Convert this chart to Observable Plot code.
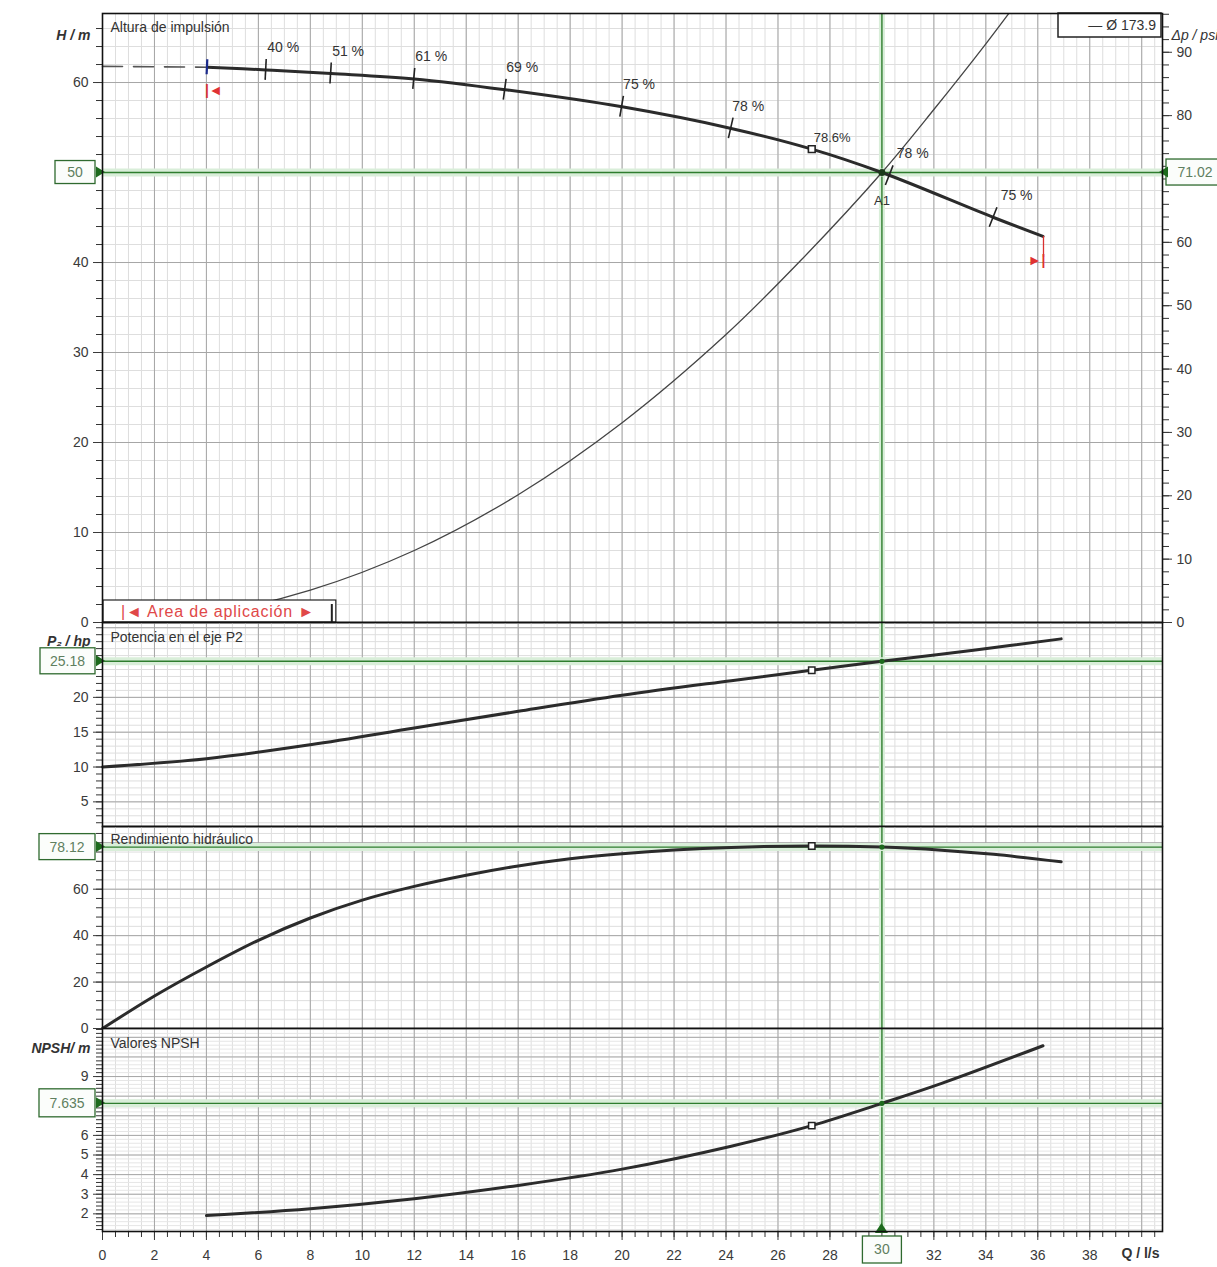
<!DOCTYPE html>
<html><head><meta charset="utf-8">
<script src="https://cdn.jsdelivr.net/npm/d3@7"></script>
<script src="https://cdn.jsdelivr.net/npm/@observablehq/plot@0.6"></script>
<style>
html,body{margin:0;padding:0;background:#fff;overflow:hidden;}
#chart{position:relative;width:1217px;height:1267px;}
#chart svg{position:absolute;left:0;}
</style></head><body><div id="chart"></div>
<script>
// ---------------- data ----------------
const pumpQ = [4.04, 6.3, 8.8, 12, 15.5, 20, 24.2, 27.3, 30, 34.3, 36.2];
const pumpH = [61.7, 61.4, 61.0, 60.4, 59.2, 57.3, 54.9, 52.6, 50.0, 45.0, 42.9];
const dashQ = [0, 2, 4.04];
const dashH = [61.8, 61.75, 61.7];
const systemQ = [0, 4, 8, 12, 16, 20, 24, 26.9, 30, 32, 34, 35.2];
const systemH = [0, 0.9, 3.6, 8.0, 14.2, 22.2, 32.0, 40.3, 50.0, 57.0, 64.3, 68.9];
const powerQ = [0, 4, 8, 12, 16, 20, 24.2, 27.3, 30, 33.6, 36.9];
const powerP = [10.0, 11.2, 13.2, 15.6, 18.0, 20.3, 22.4, 23.9, 25.18, 26.8, 28.4];
const effQ = [0, 2, 4, 6, 8, 10, 12, 14, 16, 18, 20, 22, 24.2, 27.3, 30, 32.3, 34.3, 36.9];
const effV = [0, 14, 26.5, 38, 47.6, 55.3, 61.2, 66.0, 70.0, 73.1, 75.3, 76.9, 78.0, 78.6, 78.12, 76.8, 75.0, 71.8];
const npshQ = [4, 8, 12, 16, 20, 24.2, 27.3, 30, 32.3, 36.2];
const npshV = [1.91, 2.26, 2.77, 3.45, 4.28, 5.45, 6.5, 7.635, 8.65, 10.57];
const effTickQ = [6.3, 8.8, 12, 15.5, 20, 24.2];
const effTickLbl = ["40 %", "51 %", "61 %", "69 %", "75 %", "78 %"];
const effTickQR = [30.3, 34.3];
const effTickLblR = ["78 %", "75 %"];
const bep = {q: 27.3, h: 52.6, p: 23.9, eta: 78.6, npsh: 6.5, label: "78.6%"};
const op = {q: 30, h: 50, psi: 71.02, p: 25.18, eta: 78.12, npsh: 7.635, name: "A1"};
const appRange = [4.04, 36.2];
const impeller = "— Ø 173.9";
const xLabels = [0, 2, 4, 6, 8, 10, 12, 14, 16, 18, 20, 22, 24, 26, 28, 32, 34, 36, 38];
const hLabels = [0, 10, 20, 30, 40, 60];
const psiLabels = [0, 10, 20, 30, 40, 50, 60, 80, 90];
const pLabels = [5, 10, 15, 20];
const etaLabels = [0, 20, 40, 60];
const npshLabels = [2, 3, 4, 5, 6, 9];
const PSI_PER_M = op.psi / op.h;

// ---------------- layout ----------------
const W = 1217, ML = 102, MR = 55;
const xDomain = [0, 40.8];
const GREEN = "#2e7d2e", HALO = "#d9eed9";
const FONT = "'Liberation Sans', Arial, Helvetica, sans-serif";
const TXT = "#333";
const RED = "#e03232";

const rows = (qs, vs) => qs.map((q, i) => ({q, v: vs[i]}));
const inDom = (arr, dom) => arr.filter(v => v >= dom[0] - 1e-9 && v <= dom[1] + 1e-9);
const hAt = d3.scaleLinear(pumpQ, pumpH);

function grids(yDom, yMinorStep, yMajorStep, minorColor = "#dedede") {
  const yMinor = inDom(d3.range(Math.ceil(yDom[0] / yMinorStep) * yMinorStep, yDom[1], yMinorStep), yDom);
  const yMajor = inDom(d3.range(Math.ceil(yDom[0] / yMajorStep) * yMajorStep, yDom[1], yMajorStep), yDom);
  return [
    Plot.gridX(d3.range(0, 40.81, 0.5), {stroke: "#dedede", strokeOpacity: 1}),
    Plot.gridY(yMinor, {stroke: minorColor, strokeOpacity: 1}),
    Plot.gridX(d3.range(0, 40.81, 2), {stroke: "#a6a6a6", strokeOpacity: 1}),
    Plot.gridY(yMajor, {stroke: "#a6a6a6", strokeOpacity: 1})
  ];
}
function leftAxis(yDom, minorStep, labeled) {
  const minor = inDom(d3.range(Math.ceil(yDom[0] / minorStep) * minorStep, yDom[1], minorStep), yDom);
  return [
    Plot.axisY(minor, {anchor: "left", tickSize: 6, tickFormat: () => "", label: null, color: "#333"}),
    Plot.axisY(labeled, {anchor: "left", tickSize: 9, tickPadding: 5, tickFormat: d => String(d), label: null, color: "#3a3a3a"})
  ];
}
function greenH(v) {
  return [Plot.ruleY([v], {stroke: HALO, strokeWidth: 8}), Plot.ruleY([v], {stroke: GREEN, strokeWidth: 1.4})];
}
function greenV() {
  return [Plot.ruleX([op.q], {stroke: HALO, strokeWidth: 6}), Plot.ruleX([op.q], {stroke: GREEN, strokeWidth: 1.4})];
}
function valueBox(value, label, side, w, h = 25) {
  return (index, scales, values, dim) => {
    const g = d3.create("svg:g");
    const y = scales.y(value);
    let x0, tri;
    if (side === "left") {
      const xe = dim.marginLeft;
      x0 = xe - 7 - w;
      tri = `M${xe - 6},${y - 5.5}L${xe + 3},${y}L${xe - 6},${y + 5.5}Z`;
    } else {
      const xe = dim.width - dim.marginRight;
      x0 = xe + 4;
      tri = `M${xe + 6},${y - 5.5}L${xe - 3},${y}L${xe + 6},${y + 5.5}Z`;
    }
    g.append("rect").attr("x", x0).attr("y", y - h / 2).attr("width", w).attr("height", h)
      .attr("fill", "#fbfdfb").attr("stroke", "#2f6a2f").attr("stroke-width", 1.3);
    g.append("text").attr("x", x0 + w / 2).attr("y", y).attr("dy", "0.35em").attr("text-anchor", "middle")
      .attr("fill", "#5f7f5f").attr("font-size", 14).text(label);
    g.append("path").attr("d", tri).attr("fill", "#1d6a1d");
    return g.node();
  };
}
function titleText(t, opts) {
  return Plot.text([t], {text: d => d, fill: TXT, fontSize: 14, ...opts});
}

function panel({top, height, mt = 0, mb = 0, yDomain, marks}) {
  const svg = Plot.plot({
    width: W, height, marginLeft: ML, marginRight: MR, marginTop: mt, marginBottom: mb,
    x: {domain: xDomain, axis: null},
    y: {domain: yDomain, axis: null},
    style: {fontFamily: FONT, fontSize: "14px", background: "transparent", overflow: "visible", color: TXT},
    marks
  });
  svg.style.position = "absolute";
  svg.style.top = top + "px";
  svg.style.left = "0px";
  document.getElementById("chart").append(svg);
}

// ---------------- panel 1: head ----------------
const hDom = [0, 67.67];
panel({
  top: 0, height: 622, mt: 13, yDomain: hDom,
  marks: [
    ...grids(hDom, 2, 10),
    ...greenV(), ...greenH(op.h),
    Plot.line(rows(systemQ, systemH), {x: "q", y: "v", stroke: "#444", strokeWidth: 1.3, curve: "catmull-rom", clip: true}),
    Plot.line(rows(dashQ, dashH), {x: "q", y: "v", stroke: "#555", strokeWidth: 1.6, strokeDasharray: "20,11"}),
    Plot.line(rows(pumpQ, pumpH), {x: "q", y: "v", stroke: "#2b2b2b", strokeWidth: 3, curve: "catmull-rom"}),
    // efficiency ticks on the head curve + start tick + red range markers
    (index, {x, y}) => {
      const g = d3.create("svg:g");
      const draw = (q, len, color, w) => {
        const dx = x(q + 0.4) - x(q - 0.4), dy = y(hAt(q + 0.4)) - y(hAt(q - 0.4));
        const L = Math.hypot(dx, dy), nx = -dy / L, ny = dx / L;
        const px = x(q), py = y(hAt(q));
        g.append("line").attr("x1", px - nx * len / 2).attr("y1", py - ny * len / 2)
          .attr("x2", px + nx * len / 2).attr("y2", py + ny * len / 2)
          .attr("stroke", color).attr("stroke-width", w);
      };
      [...effTickQ, ...effTickQR].forEach(q => draw(q, 21, "#222", 1.6));
      draw(appRange[0], 15, "#1a2a8a", 2.2);
      const xe = x(appRange[1]), ye = y(hAt(appRange[1]));
      g.append("line").attr("x1", xe + 1).attr("x2", xe + 1).attr("y1", ye).attr("y2", ye + 21)
        .attr("stroke", "#d93030").attr("stroke-width", 1.3);
      g.append("text").attr("x", xe + 3).attr("y", ye + 24).attr("dy", "0.35em").attr("text-anchor", "end")
        .attr("fill", RED).attr("font-size", 14).attr("font-weight", "bold").text("►|");
      const xs = x(appRange[0]), ys = y(hAt(appRange[0]));
      g.append("text").attr("x", xs - 2).attr("y", ys + 23).attr("dy", "0.35em").attr("text-anchor", "start")
        .attr("fill", RED).attr("font-size", 14).attr("font-weight", "bold").text("|◄");
      return g.node();
    },
    Plot.text(effTickQ.map((q, i) => ({q, h: hAt(q), t: effTickLbl[i]})), {x: "q", y: "h", text: "t", dx: 1, dy: -22, textAnchor: "start", fill: TXT, fontSize: 14}),
    Plot.text(effTickQR.map((q, i) => ({q, h: hAt(q), t: effTickLblR[i]})), {x: "q", y: "h", text: "t", dx: 7, dy: -22, textAnchor: "start", fill: TXT, fontSize: 14}),
    Plot.dot([bep], {x: "q", y: "h", symbol: "square", r: 3.8, stroke: "#222", fill: "white", strokeWidth: 1.6}),
    Plot.text([bep], {x: "q", y: "h", text: "label", dx: 2, dy: -11, textAnchor: "start", fill: TXT, fontSize: 13}),
    Plot.dot([op], {x: "q", y: "h", r: 3.5, fill: "#1b3b1b"}),
    Plot.text([op], {x: "q", y: "h", text: "name", dy: 28, fill: TXT, fontSize: 13}),
    // application range box
    (index, {x, y}) => {
      const g = d3.create("svg:g");
      const x0 = x(0) + 1, x1 = x(9.0), yb = y(0), yt = yb - 22;
      g.append("rect").attr("x", x0).attr("y", yt).attr("width", x1 - x0).attr("height", yb - yt)
        .attr("fill", "white").attr("stroke", "#222").attr("stroke-width", 1.2);
      g.append("text").attr("x", x0 + 18).attr("y", yt + 11).attr("dy", "0.35em").attr("text-anchor", "start")
        .attr("fill", "#e04848").attr("font-size", 16).attr("letter-spacing", "0.8px").text("|◄ Area de aplicación ►");
      g.append("line").attr("x1", x1 - 4).attr("x2", x1 - 4).attr("y1", yt + 4).attr("y2", yb)
        .attr("stroke", "#222").attr("stroke-width", 2);
      return g.node();
    },
    // legend box
    (index, scales, values, dim) => {
      const g = d3.create("svg:g");
      const xr = dim.width - dim.marginRight, y0 = dim.marginTop;
      g.append("rect").attr("x", xr - 104).attr("y", y0).attr("width", 103).attr("height", 24)
        .attr("fill", "white").attr("stroke", "#222").attr("stroke-width", 1.5);
      g.append("text").attr("x", xr - 6).attr("y", y0 + 12).attr("dy", "0.35em").attr("text-anchor", "end")
        .attr("fill", TXT).attr("font-size", 14).text(impeller);
      return g.node();
    },
    ...leftAxis(hDom, 2, hLabels),
    Plot.axisY(inDom(d3.range(0, 97, 2).map(p => p / PSI_PER_M), hDom), {anchor: "right", tickSize: 6, tickFormat: () => "", label: null, color: "#333"}),
    Plot.axisY(psiLabels.map(p => p / PSI_PER_M), {anchor: "right", tickSize: 9, tickPadding: 5, tickFormat: d => String(Math.round(d * PSI_PER_M)), label: null, color: "#3a3a3a"}),
    titleText("H / m", {frameAnchor: "top-left", dx: -12, dy: 17, textAnchor: "end", fontStyle: "italic", fontWeight: "bold"}),
    titleText("Δp / psi", {frameAnchor: "top-right", dx: 9, dy: 17, textAnchor: "start", fontStyle: "italic"}),
    titleText("Altura de impulsión", {frameAnchor: "top-left", dx: 8, dy: 9, textAnchor: "start"}),
    valueBox(op.h, String(op.h), "left", 40, 23),
    valueBox(op.h, String(op.psi), "right", 58, 26),
    Plot.frame({stroke: "#111", strokeWidth: 1.6})
  ]
});

// ---------------- panel 2: power ----------------
const pDom = [1.46, 30.75];
panel({
  top: 622, height: 204, yDomain: pDom,
  marks: [
    ...grids(pDom, 1, 5),
    ...greenV(), ...greenH(op.p),
    Plot.line(rows(powerQ, powerP), {x: "q", y: "v", stroke: "#2b2b2b", strokeWidth: 3, curve: "catmull-rom"}),
    Plot.dot([bep], {x: "q", y: "p", symbol: "square", r: 3.6, stroke: "#222", fill: "white", strokeWidth: 1.5}),
    Plot.dot([op], {x: "q", y: "p", r: 2.6, fill: "#1d6a1d"}),
    ...leftAxis(pDom, 1, pLabels),
    titleText("P₂ / hp", {frameAnchor: "top-left", dx: -12, dy: 14, textAnchor: "end", fontStyle: "italic", fontWeight: "bold"}),
    titleText("Potencia en el eje P2", {frameAnchor: "top-left", dx: 8, dy: 10, textAnchor: "start"}),
    valueBox(op.p, String(op.p), "left", 55, 26),
    Plot.frame({stroke: "#111", strokeWidth: 1.6})
  ]
});

// ---------------- panel 3: efficiency ----------------
const eDom = [0, 87];
panel({
  top: 826, height: 202, yDomain: eDom,
  marks: [
    ...grids(eDom, 4, 20),
    ...greenV(), ...greenH(op.eta),
    Plot.line(rows(effQ, effV), {x: "q", y: "v", stroke: "#2b2b2b", strokeWidth: 3, curve: "catmull-rom"}),
    Plot.dot([bep], {x: "q", y: "eta", symbol: "square", r: 3.6, stroke: "#222", fill: "white", strokeWidth: 1.5}),
    Plot.dot([op], {x: "q", y: "eta", r: 2.6, fill: "#1d6a1d"}),
    ...leftAxis(eDom, 4, etaLabels),
    titleText("Rendimiento hidráulico", {frameAnchor: "top-left", dx: 8, dy: 8, textAnchor: "start"}),
    valueBox(op.eta, String(op.eta), "left", 56, 26),
    Plot.frame({stroke: "#111", strokeWidth: 1.6})
  ]
});

// ---------------- panel 4: NPSH ----------------
const nDom = [1.1, 11.45];
panel({
  top: 1028, height: 239, mb: 36, yDomain: nDom,
  marks: [
    ...grids(nDom, 0.2, 1, "#e6e6e6"),
    ...greenV(), ...greenH(op.npsh),
    Plot.line(rows(npshQ, npshV), {x: "q", y: "v", stroke: "#2b2b2b", strokeWidth: 3, curve: "catmull-rom"}),
    Plot.dot([bep], {x: "q", y: "npsh", symbol: "square", r: 3.6, stroke: "#222", fill: "white", strokeWidth: 1.5}),
    Plot.dot([op], {x: "q", y: "npsh", r: 2.6, fill: "#1d6a1d"}),
    ...leftAxis(nDom, 0.2, npshLabels),
    Plot.axisX(d3.range(0, 40.51, 0.5), {anchor: "bottom", tickSize: 6, tickFormat: () => "", label: null, color: "#333"}),
    Plot.axisX(xLabels, {anchor: "bottom", tickSize: 9, tickPadding: 10, tickFormat: d => String(d), label: null, color: "#3a3a3a"}),
    titleText("NPSH/ m", {frameAnchor: "top-left", dx: -12, dy: 15, textAnchor: "end", fontStyle: "italic", fontWeight: "bold"}),
    titleText("Valores NPSH", {frameAnchor: "top-left", dx: 8, dy: 10, textAnchor: "start"}),
    titleText("Q / l/s", {frameAnchor: "bottom-right", dx: -3, dy: 26, textAnchor: "end", fontWeight: "bold"}),
    valueBox(op.npsh, String(op.npsh), "left", 56, 28),
    (index, {x}, values, dim) => {
      const g = d3.create("svg:g");
      const cx = x(op.q), yb = dim.height - dim.marginBottom;
      g.append("path").attr("d", `M${cx - 6.5},${yb + 2}L${cx},${yb - 8}L${cx + 6.5},${yb + 2}Z`).attr("fill", "#1d6a1d");
      g.append("rect").attr("x", cx - 19).attr("y", yb + 5).attr("width", 39).attr("height", 27)
        .attr("fill", "#fbfdfb").attr("stroke", "#2f6a2f").attr("stroke-width", 1.3);
      g.append("text").attr("x", cx + 0.5).attr("y", yb + 18.5).attr("dy", "0.35em").attr("text-anchor", "middle")
        .attr("fill", "#5f7f5f").attr("font-size", 14).text(String(op.q));
      return g.node();
    },
    Plot.frame({stroke: "#111", strokeWidth: 1.6})
  ]
});
</script></body></html>
